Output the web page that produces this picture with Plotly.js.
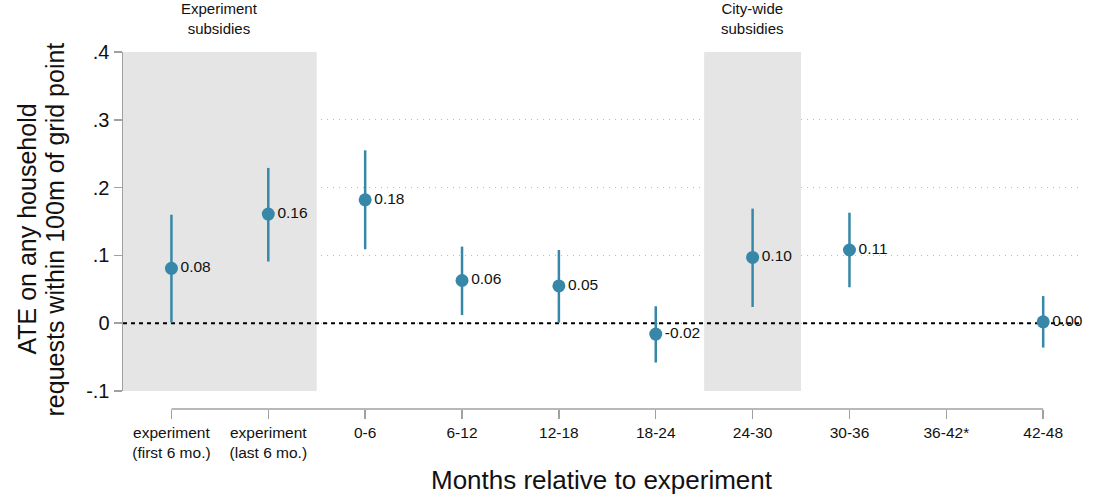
<!DOCTYPE html>
<html>
<head>
<meta charset="utf-8">
<script src="https://cdn.plot.ly/plotly-3.0.1.min.js"></script>
<style>html,body{margin:0;padding:0;background:#fff;}#chart{width:1097px;height:495px;}</style>
</head>
<body>
<div id="chart"></div>
<script>
const categories = ["experiment<br>(first 6 mo.)", "experiment<br>(last 6 mo.)", "0-6", "6-12", "12-18", "18-24", "24-30", "30-36", "36-42*", "42-48"];
const estimates = [0.081, 0.161, 0.182, 0.063, 0.055, -0.016, 0.097, 0.108, null, 0.002];
const ciUpper   = [0.160, 0.229, 0.255, 0.113, 0.108, 0.025, 0.169, 0.163, null, 0.040];
const ciLower   = [0.001, 0.091, 0.109, 0.012, 0.001, -0.058, 0.024, 0.053, null, -0.036];
const pointLabels = ["0.08", "0.16", "0.18", "0.06", "0.05", "-0.02", "0.10", "0.11", "", "0.00"];
const yTickVals = [-0.1, 0, 0.1, 0.2, 0.3, 0.4];
const yTickText = ["-.1", "0", ".1", ".2", ".3", ".4"];
const shadedPeriods = [[-0.5, 1.5], [5.5, 6.5]];
const periodNotes = [{x: 0.5, text: "Experiment<br>subsidies"}, {x: 6, text: "City-wide<br>subsidies"}];
const yTitleLines = ["ATE on any household", "requests within 100m of grid point"];
const xTitle = "Months relative to experiment";

const FONT = "Liberation Sans, Arial, sans-serif";
const X_RANGE = [-0.5, 9.38];
const xIdx = categories.map((_, i) => i);
const errPlus = estimates.map((v, i) => v === null ? null : ciUpper[i] - v);
const errMinus = estimates.map((v, i) => v === null ? null : v - ciLower[i]);

const col = "#3787a8";
const trace = {
  x: xIdx, y: estimates, type: "scatter", mode: "markers+text",
  text: pointLabels, textposition: "middle right",
  textfont: {family: FONT, size: 15.5, color: "#111"},
  marker: {size: 13, color: col},
  error_y: {type: "data", symmetric: false, array: errPlus, arrayminus: errMinus, color: col, thickness: 2.5, width: 0},
  cliponaxis: false, hoverinfo: "skip", showlegend: false
};

const shapes = [];
shadedPeriods.forEach(p => shapes.push({type: "rect", xref: "x", yref: "y", x0: p[0], x1: p[1], y0: -0.1, y1: 0.4, fillcolor: "#e5e5e5", line: {width: 0}, layer: "between"}));
shapes.push({type: "line", xref: "x", yref: "y", x0: X_RANGE[0], x1: X_RANGE[1], y0: 0, y1: 0, line: {color: "#000", width: 2, dash: "4px,4px"}, layer: "between"});
shapes.push({type: "line", xref: "x", yref: "paper", x0: 0, x1: 9, y0: 0, y1: 0, line: {color: "#a0a0a0", width: 1.5}, layer: "above"});

const annotations = periodNotes.map(n => ({x: n.x, xref: "x", y: 1, yref: "paper", yanchor: "middle", yshift: 34, text: n.text, showarrow: false, font: {family: FONT, size: 15, color: "#111"}}));
const yMid = (0.0504 + 1) / 2;
annotations.push({x: 0, xref: "paper", y: yMid, yref: "paper", xanchor: "center", yanchor: "middle", xshift: -96, yshift: -8, textangle: -90, text: yTitleLines[0], showarrow: false, font: {family: FONT, size: 25, color: "#111"}});
annotations.push({x: 0, xref: "paper", y: yMid, yref: "paper", xanchor: "center", yanchor: "middle", xshift: -68, yshift: -8, textangle: -90, text: yTitleLines[1], showarrow: false, font: {family: FONT, size: 25, color: "#111"}});

const layout = {
  width: 1097, height: 495,
  margin: {l: 123, r: 17, t: 52, b: 86},
  paper_bgcolor: "#fff", plot_bgcolor: "#fff",
  font: {family: FONT, color: "#111"},
  xaxis: {
    range: X_RANGE, anchor: "free", position: 0,
    tickvals: xIdx, ticktext: categories,
    ticks: "outside", ticklen: 9, tickcolor: "#a0a0a0", tickwidth: 1.5,
    showline: false, showgrid: false, zeroline: false,
    tickfont: {size: 15.5, color: "#111"},
    title: {text: xTitle, font: {size: 26, color: "#111"}, standoff: 12}
  },
  yaxis: {
    domain: [0.0504, 1], range: [-0.1, 0.4],
    tickvals: yTickVals, ticktext: yTickText,
    ticks: "outside", ticklen: 8, tickcolor: "#a0a0a0", tickwidth: 1.5,
    showline: true, linecolor: "#a0a0a0", linewidth: 1.5,
    showgrid: true, gridcolor: "#bdbdbd", griddash: "1px,5px", gridwidth: 1,
    zeroline: false,
    tickfont: {size: 20, color: "#111"}
  },
  shapes: shapes, annotations: annotations
};

Plotly.newPlot("chart", [trace], layout, {displayModeBar: false, staticPlot: true});
</script>
</body>
</html>
